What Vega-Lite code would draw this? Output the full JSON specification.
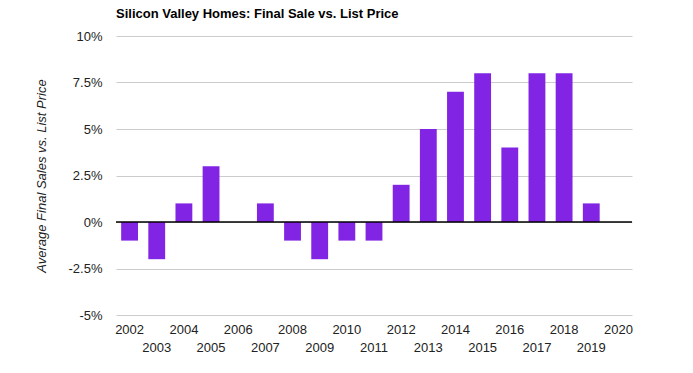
{
  "$schema": "https://vega.github.io/schema/vega-lite/v6.json",
  "width": 516,
  "height": 279,
  "autosize": "none",
  "padding": {"left": 116, "top": 36, "right": 61, "bottom": 58},
  "background": "white",
  "title": {
    "text": "Silicon Valley Homes: Final Sale vs. List Price",
    "anchor": "start",
    "frame": "group",
    "font": "Arial, Liberation Sans",
    "fontSize": 13,
    "fontWeight": "bold",
    "color": "#000000",
    "offset": 9
  },
  "config": {
    "view": {"stroke": null},
    "axis": {"labelFont": "Arial, Liberation Sans", "titleFont": "Arial, Liberation Sans"}
  },
  "data": {
    "values": [
      {"year": 2002, "pct": -1},
      {"year": 2003, "pct": -2},
      {"year": 2004, "pct": 1},
      {"year": 2005, "pct": 3},
      {"year": 2006, "pct": 0},
      {"year": 2007, "pct": 1},
      {"year": 2008, "pct": -1},
      {"year": 2009, "pct": -2},
      {"year": 2010, "pct": -1},
      {"year": 2011, "pct": -1},
      {"year": 2012, "pct": 2},
      {"year": 2013, "pct": 5},
      {"year": 2014, "pct": 7},
      {"year": 2015, "pct": 8},
      {"year": 2016, "pct": 4},
      {"year": 2017, "pct": 8},
      {"year": 2018, "pct": 8},
      {"year": 2019, "pct": 1}
    ]
  },
  "layer": [
    {
      "mark": {"type": "bar", "color": "#8224e3"},
      "encoding": {
        "x": {
          "field": "year",
          "type": "ordinal",
          "scale": {
            "domain": [2002,2003,2004,2005,2006,2007,2008,2009,2010,2011,2012,2013,2014,2015,2016,2017,2018,2019,2020],
            "paddingInner": 0.38,
            "paddingOuter": 0.19
          },
          "axis": {
            "title": null,
            "labelAngle": 0,
            "domain": false,
            "ticks": false,
            "grid": false,
            "labelPadding": 8,
            "labelFontSize": 13,
            "labelColor": "#222222",
            "labelLineHeight": 18,
            "labelBaseline": "top",
            "labelExpr": "datum.value % 2 == 1 ? ['', '' + datum.value] : '' + datum.value"
          }
        },
        "y": {
          "field": "pct",
          "type": "quantitative",
          "scale": {"domain": [-5, 10], "nice": false, "zero": false},
          "axis": {
            "title": "Average Final Sales vs. List Price",
            "titleFontStyle": "italic",
            "titleFontWeight": "normal",
            "titleFontSize": 13,
            "titleColor": "#222222",
            "titlePadding": 20,
            "values": [-5, -2.5, 0, 2.5, 5, 7.5, 10],
            "labelExpr": "datum.value + '%'",
            "labelFontSize": 13,
            "labelColor": "#222222",
            "labelPadding": 14,
            "domain": false,
            "ticks": false,
            "gridColor": "#cccccc",
            "gridWidth": 1
          }
        }
      }
    },
    {
      "data": {"values": [{"z": 0}]},
      "mark": {"type": "rule", "color": "#000000", "strokeWidth": 1.5},
      "encoding": {"y": {"field": "z", "type": "quantitative"}}
    }
  ]
}
